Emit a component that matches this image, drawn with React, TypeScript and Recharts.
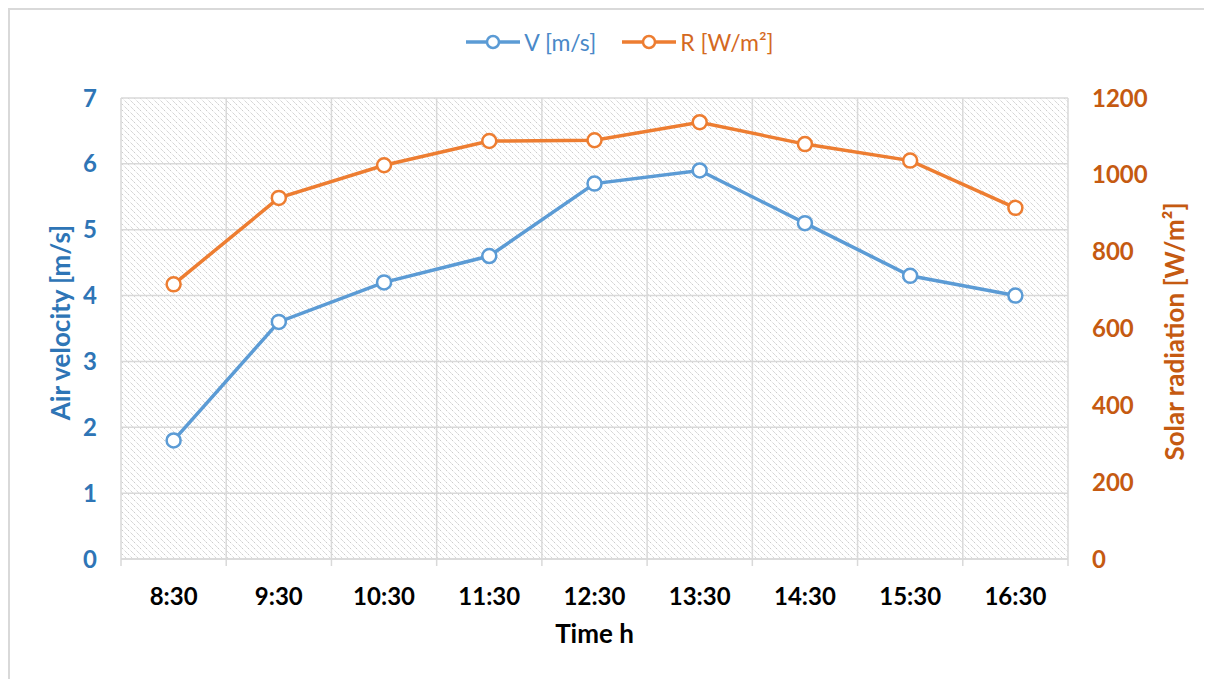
import React from 'react';
import { LineChart, Line, XAxis, YAxis, CartesianGrid, Legend, Label } from 'recharts';

// Hourly readings
const times = ['8:30', '9:30', '10:30', '11:30', '12:30', '13:30', '14:30', '15:30', '16:30'];
const velocity = [1.8, 3.6, 4.2, 4.6, 5.7, 5.9, 5.1, 4.3, 4.0];
const radiation = [715, 940, 1025, 1088, 1090, 1137, 1080, 1037, 914];

const velocityTicks = [0, 1, 2, 3, 4, 5, 6, 7];
const radiationTicks = [0, 200, 400, 600, 800, 1000, 1200];

const data = times.map((time, i) => ({ time, V: velocity[i], R: radiation[i] }));

const BLUE = '#5b9bd5';
const ORANGE = '#ed7d31';
const GRID = '#d9d9d9';
const FONT = 'Lato, "Open Sans", sans-serif';

const WIDTH = 1210;
const HEIGHT = 680;
const MARGIN = { top: 88, right: 0, bottom: 0, left: 0 };
const LEFT_AXIS = 111;
const RIGHT_AXIS = 152;
const PLOT_WIDTH = WIDTH - LEFT_AXIS - RIGHT_AXIS;
const BAND = PLOT_WIDTH / times.length;

const seriesOrder = ['V', 'R'];
const legendText: Record<string, string> = { V: '#4a89c8', R: '#d4691f' };

const LegendContent = (props: any) => {
  const items = [...(props.payload || [])].sort((a: any, b: any) => seriesOrder.indexOf(a.dataKey) - seriesOrder.indexOf(b.dataKey));
  return <div style={{ display: 'flex', justifyContent: 'center', alignItems: 'center', gap: 26, paddingLeft: 10, fontFamily: FONT, fontSize: 23 }}>
      {items.map((item: any) => <div key={item.dataKey} style={{ display: 'flex', alignItems: 'center', gap: 4 }}>
          <svg width={54} height={20}>
            <line x1={0} y1={10} x2={54} y2={10} stroke={item.color} strokeWidth={3.5} />
            <circle cx={27} cy={10} r={6} fill="#fff" stroke={item.color} strokeWidth={2.5} />
          </svg>
          <span style={{ color: legendText[item.dataKey] }}>{item.value}</span>
        </div>)}
    </div>;
};

// category label plus the short marks at the band edges
const TimeTick = (props: any) => {
  const { x, y, payload, index } = props;
  const left = x - BAND / 2;
  const right = x + BAND / 2;
  return <g>
      <line x1={left} y1={y} x2={left} y2={y + 7} stroke={GRID} strokeWidth={1.5} />
      {index === times.length - 1 && <line x1={right} y1={y} x2={right} y2={y + 7} stroke={GRID} strokeWidth={1.5} />}
      <text x={x} y={y + 29} dy="0.71em" textAnchor="middle" fill="#000" fontSize={24} fontWeight={700} fontFamily={FONT}>
        {payload.value}
      </text>
    </g>;
};

const bandEdges = ({ offset }: any) => times.map((_, i) => offset.left + i * offset.width / times.length).concat(offset.left + offset.width);

const App = () => {
  return <div>
      <style>{'body{overflow:hidden}'}</style>
      <svg width={0} height={0} style={{ position: 'absolute' }}>
        <defs>
          <pattern id="hatch" width={6} height={6} patternUnits="userSpaceOnUse">
            <rect width={6} height={6} fill="#fff" />
            <path d="M-1,-1 L7,7 M-1,5 L1,7 M5,-1 L7,1" stroke="#c9c9c9" strokeWidth={1} strokeDasharray="2 1.2" />
          </pattern>
        </defs>
      </svg>
      <div style={{ width: WIDTH, height: HEIGHT, border: `2px solid ${GRID}`, background: '#fff' }}>
        <LineChart width={WIDTH} height={HEIGHT} data={data} margin={MARGIN}>
          <CartesianGrid yAxisId="left" stroke={GRID} strokeWidth={1.5} fill="url(#hatch)" fillOpacity={1} verticalCoordinatesGenerator={bandEdges} />
          <XAxis dataKey="time" scale="band" height={HEIGHT - 549} axisLine={{ stroke: GRID, strokeWidth: 1.5 }} tickLine={false} tickSize={0} tickMargin={0} interval={0} tick={<TimeTick />}>
            <Label value="Time h" position="center" dy={9} style={{ fill: '#000', fontSize: 26, fontWeight: 700, fontFamily: FONT }} />
          </XAxis>
          <YAxis yAxisId="left" width={LEFT_AXIS} domain={[0, 7]} ticks={velocityTicks} axisLine={false} tickLine={false} tickSize={0} tickMargin={24} tick={{ fill: '#2e75b6', fontSize: 24, fontWeight: 700, fontFamily: FONT }}>
            <Label value="Air velocity [m/s]" angle={-90} position="center" dx={-5} dy={-6} style={{ fill: '#2e75b6', fontSize: 26, fontWeight: 700, fontFamily: FONT, textAnchor: 'middle' }} />
          </YAxis>
          <YAxis yAxisId="right" orientation="right" width={RIGHT_AXIS} domain={[0, 1200]} ticks={radiationTicks} axisLine={false} tickLine={false} tickSize={0} tickMargin={24} tick={{ fill: '#c55a11', fontSize: 24, fontWeight: 700, fontFamily: FONT, textAnchor: 'start' }}>
            <Label value="Solar radiation [W/m²]" angle={-90} position="center" dx={31} dy={3} style={{ fill: '#c55a11', fontSize: 26, fontWeight: 700, fontFamily: FONT, textAnchor: 'middle' }} />
          </YAxis>
          <Legend verticalAlign="middle" align="center" content={<LegendContent />} wrapperStyle={{ top: 18, left: 0, width: WIDTH }} />
          <Line yAxisId="left" dataKey="V" name="V [m/s]" stroke={BLUE} strokeWidth={3.5} dot={{ r: 7, fill: '#fff', stroke: BLUE, strokeWidth: 2.5 }} activeDot={false} isAnimationActive={false} />
          <Line yAxisId="right" dataKey="R" name="R [W/m²]" stroke={ORANGE} strokeWidth={3.5} dot={{ r: 7, fill: '#fff', stroke: ORANGE, strokeWidth: 2.5 }} activeDot={false} isAnimationActive={false} />
        </LineChart>
      </div>
    </div>;
};

export default App;
